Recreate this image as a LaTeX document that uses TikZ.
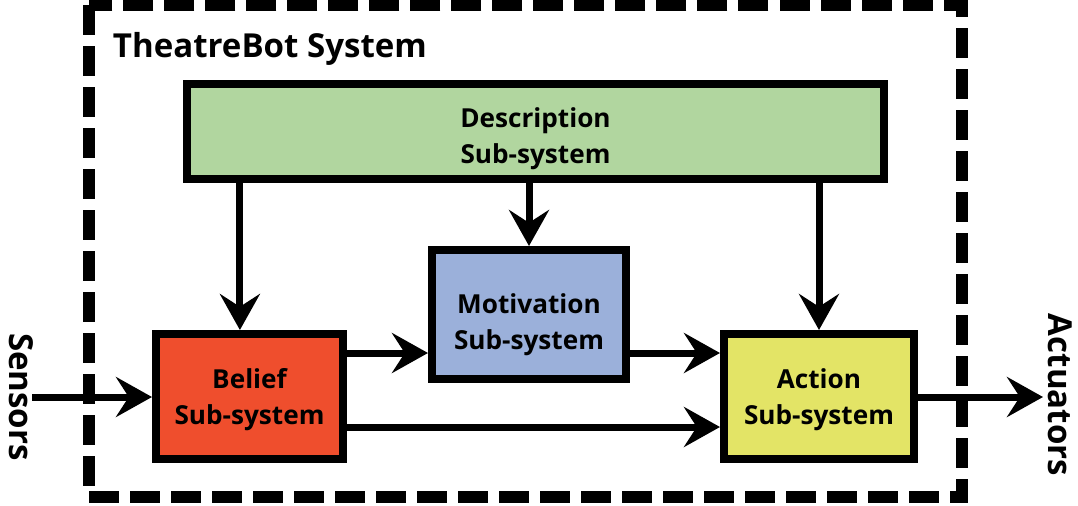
\documentclass[tikz,border=0pt]{standalone}
\usepackage{fontspec}
\setmainfont{Open Sans}
\usepackage{tikz}
\usetikzlibrary{arrows.meta,positioning}
\definecolor{descgreen}{RGB}{177,214,159}
\definecolor{motblue}{RGB}{155,176,218}
\definecolor{belred}{RGB}{239,78,45}
\definecolor{actyellow}{RGB}{227,228,102}
\tikzset{
  flow/.style={-{Stealth[length=0.9cm,width=1cm,inset=0.32cm]}, line width=0.175cm, draw=black},
  subbox/.style={
    draw=black,
    line width=0.2cm,
    align=center,
    inner sep=2pt,
    font=\fontsize{18.6}{25.5}\selectfont\bfseries
  },
  sysframe/.style={draw=black, line width=0.3cm, dash pattern=on 0.75cm off 0.275cm},
  sidelabel/.style={font=\fontsize{23.5}{26}\selectfont\bfseries, rotate=-90}
}

\begin{document}
\begin{tikzpicture}[x=0.025cm,y=-0.025cm]
  \useasboundingbox (0,0) rectangle (1078,506);
  % outer system frame
  \draw[sysframe] (89,5) rectangle (962,497);
  \node[anchor=base west,font=\fontsize{23.5}{26}\selectfont\bfseries] (title) at (108,57) {TheatreBot System};
  % sub-systems
  \node[subbox,fill=descgreen,minimum width=17.425cm,minimum height=2.375cm,text height=49.6pt] (desc) at (535.5,131.5) {Description\\Sub-system};
  \node[subbox,fill=motblue,minimum width=4.85cm,minimum height=3.225cm,text height=53.8pt] (mot) at (529,314.5) {Motivation\\Sub-system};
  \node[subbox,fill=belred,minimum width=4.675cm,minimum height=3.125cm,text height=43.9pt] (belief) at (249.5,396.5) {Belief\\Sub-system};
  \node[subbox,fill=actyellow,minimum width=4.75cm,minimum height=3.125cm,text height=43.9pt] (action) at (819,396.5) {Action\\Sub-system};
  % inputs and outputs
  \node[sidelabel] (sensors) at (21,397) {Sensors};
  \node[sidelabel] (actuators) at (1060,395) {Actuators};
  \coordinate (sensin) at (32,397);
  \coordinate (actout) at (1043,397);
  \coordinate (rowa) at (0,353);
  \coordinate (rowb) at (0,427);
  % connectors
  \draw[flow] ([xshift=-0.24cm]desc.south -| belief.north) -- ([xshift=-0.24cm]belief.north);
  \draw[flow] (desc.south -| mot.north) -- (mot.north);
  \draw[flow] (desc.south -| action.north) -- (action.north);
  \draw[flow] (sensin) -- (belief.west |- sensin);
  \draw[flow] (belief.east |- rowa) -- (mot.west |- rowa);
  \draw[flow] (mot.east |- rowa) -- (action.west |- rowa);
  \draw[flow] (belief.east |- rowb) -- (action.west |- rowb);
  \draw[flow] (action.east |- actout) -- (actout);
\end{tikzpicture}
\end{document}
